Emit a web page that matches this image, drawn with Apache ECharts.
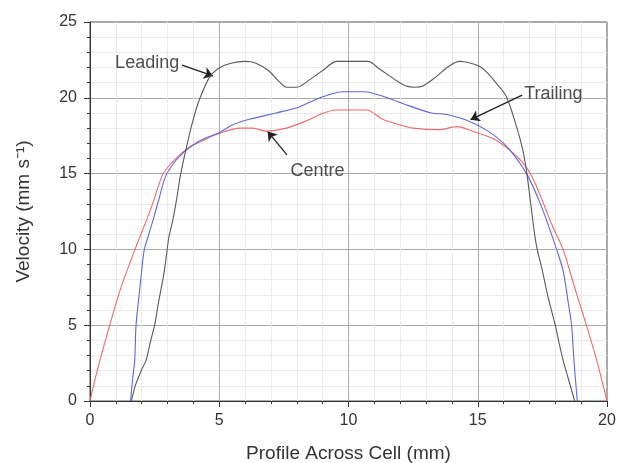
<!DOCTYPE html>
<html>
<head>
<meta charset="utf-8">
<script src="https://cdn.jsdelivr.net/npm/echarts@6/dist/echarts.min.js"></script>
<style>
  html, body { margin: 0; padding: 0; background: #fff; }
  #chart { width: 620px; height: 463px; }
</style>
</head>
<body>
<div id="chart"></div>
<script>
// profile position (mm) vs velocity (mm/s)
const leading = [
  [1.6, 0], [1.75, 1], [1.98, 2], [2.17, 2.7], [2.35, 4], [2.5, 5], [2.65, 6.5], [2.85, 8.3],
  [2.95, 9.5], [3.05, 10.8], [3.2, 11.9], [3.35, 13.3], [3.5, 14.9], [3.7, 16.5], [3.98, 18.5],
  [4.26, 20], [4.64, 21.4], [5.03, 22.0], [5.5, 22.3], [6.0, 22.4], [6.4, 22.3], [6.9, 21.8],
  [7.3, 21.1], [7.6, 20.7], [8.0, 20.7], [8.5, 21.2], [9.0, 21.8], [9.55, 22.4], [10.75, 22.4],
  [11.2, 21.9], [11.8, 21.2], [12.2, 20.8], [12.57, 20.7], [12.9, 20.8], [13.4, 21.4], [13.9, 22.1],
  [14.3, 22.4], [14.7, 22.3], [15.1, 22.05], [15.4, 21.6], [15.7, 21.0], [16.1, 20.1], [16.5, 18.1],
  [16.75, 16.5], [16.9, 15.0], [17.05, 13], [17.2, 11], [17.3, 10], [17.5, 8.6], [17.7, 7],
  [18.0, 5.0], [18.15, 3.8], [18.3, 2.7], [18.5, 1.5], [18.75, 0]
]
const trailing = [
  [1.57, 0], [1.65, 1.5], [1.73, 2.7], [1.78, 5], [1.9, 7], [2.0, 8.6], [2.1, 10], [2.24, 10.8],
  [2.45, 12], [2.63, 13.1], [2.92, 14.8], [3.2, 15.6], [3.5, 16.2], [3.95, 16.85], [4.4, 17.3],
  [5.0, 17.7], [5.5, 18.2], [6.2, 18.6], [7.2, 19.0], [8.1, 19.4], [8.9, 20.0], [9.8, 20.4],
  [10.6, 20.4], [11.5, 20.0], [12.3, 19.5], [13.2, 19.0], [13.8, 18.9], [14.6, 18.5], [15.4, 17.8],
  [16.0, 17.0], [16.5, 16.0], [16.95, 14.8], [17.4, 13.1], [17.75, 11.5], [18.05, 10], [18.3, 8.6],
  [18.5, 6.5], [18.63, 5], [18.72, 2.7], [18.85, 0]
]
const centre = [
  [0, 0], [0.25, 1.8], [0.76, 5], [1.2, 7.5], [1.74, 10], [2.2, 12], [2.44, 13.1], [2.8, 14.9],
  [3.1, 15.6], [3.45, 16.2], [3.9, 16.8], [4.4, 17.2], [4.9, 17.6], [5.8, 18.0], [6.3, 18.0],
  [6.8, 17.8], [7.6, 18.0], [8.4, 18.5], [8.9, 18.9], [9.5, 19.2], [10.7, 19.2], [11.3, 18.6],
  [12.0, 18.2], [12.5, 18.0], [13.5, 17.9], [14.2, 18.1], [14.8, 17.8], [15.6, 17.3], [16.2, 16.6],
  [16.7, 15.8], [17.1, 14.8], [17.55, 13.0], [17.9, 11.5], [18.3, 10], [18.8, 7.2], [19.2, 5],
  [19.6, 2.7], [20, 0]
]
// annotations: [text x, text y, label]
const labels = [[3.45, 22.3, 'Leading'], [16.8, 20.25, 'Trailing'], [8.8, 15.2, 'Centre']]
const labelAlign = ['right', 'left', 'center']
// arrows: from -> to
const arrows = [
  [[3.56, 22.16], [4.76, 21.44]],
  [[16.72, 20.18], [14.72, 18.56]],
  [[7.62, 16.23], [6.87, 17.78]]
]

const font = 'Liberation Sans, Arial, sans-serif'
const chart = echarts.init(document.getElementById('chart'))

const axisCommon = {
  type: 'value',
  interval: 5,
  axisLine: { show: true, lineStyle: { color: '#333', width: 1 } },
  axisTick: { show: true, inside: false, length: 6, lineStyle: { color: '#333' } },
  minorTick: { show: true, splitNumber: 5, length: 3, lineStyle: { color: '#333' } },
  splitLine: { show: true, lineStyle: { color: '#aaa', width: 1 } },
  minorSplitLine: { show: true, lineStyle: { color: '#ebebeb', width: 1 } },
  nameLocation: 'middle',
  nameTextStyle: { fontFamily: font, fontSize: 19, color: '#333' }
}

const option = {
  animation: false,
  grid: {
    left: 90, right: 13, top: 22, bottom: 62,
    containLabel: false,
    outerBoundsMode: 'none',
    show: true, borderColor: '#555', borderWidth: 1
  },
  xAxis: Object.assign({}, axisCommon, {
    min: 0, max: 20,
    name: 'Profile Across Cell (mm)',
    nameGap: 43,
    axisLabel: { fontFamily: font, fontSize: 16, color: '#333', margin: 12 }
  }),
  yAxis: Object.assign({}, axisCommon, {
    min: 0, max: 25,
    name: 'Velocity (mm s\u207B\u00B9)',
    nameGap: 57,
    axisLabel: { fontFamily: font, fontSize: 16, color: '#333', margin: 13 }
  }),
  series: [
    {
      name: 'Centre', type: 'line', data: centre, symbol: 'none', smooth: 0.3,
      lineStyle: { color: '#ef6a6a', width: 1.1 }
    },
    {
      name: 'Trailing', type: 'line', data: trailing, symbol: 'none', smooth: 0.3,
      lineStyle: { color: '#5c68dc', width: 1.1 }
    },
    {
      name: 'Leading', type: 'line', data: leading, symbol: 'none', smooth: 0.3,
      lineStyle: { color: '#5a5a5a', width: 1.1 }
    },
    {
      type: 'lines', coordinateSystem: 'cartesian2d',
      symbol: ['none', 'arrow'], symbolSize: 9,
      lineStyle: { color: '#222', width: 1.3, opacity: 1 },
      data: arrows.map(c => ({ coords: c }))
    },
    {
      type: 'scatter', symbolSize: 0,
      data: labels.map((l, i) => ({ value: l, label: { align: labelAlign[i] } })),
      label: {
        show: true,
        formatter: p => p.value[2],
        fontFamily: font, fontSize: 18, color: '#222',
        position: 'inside'
      }
    }
  ]
}
chart.setOption(option)
</script>
</body>
</html>
